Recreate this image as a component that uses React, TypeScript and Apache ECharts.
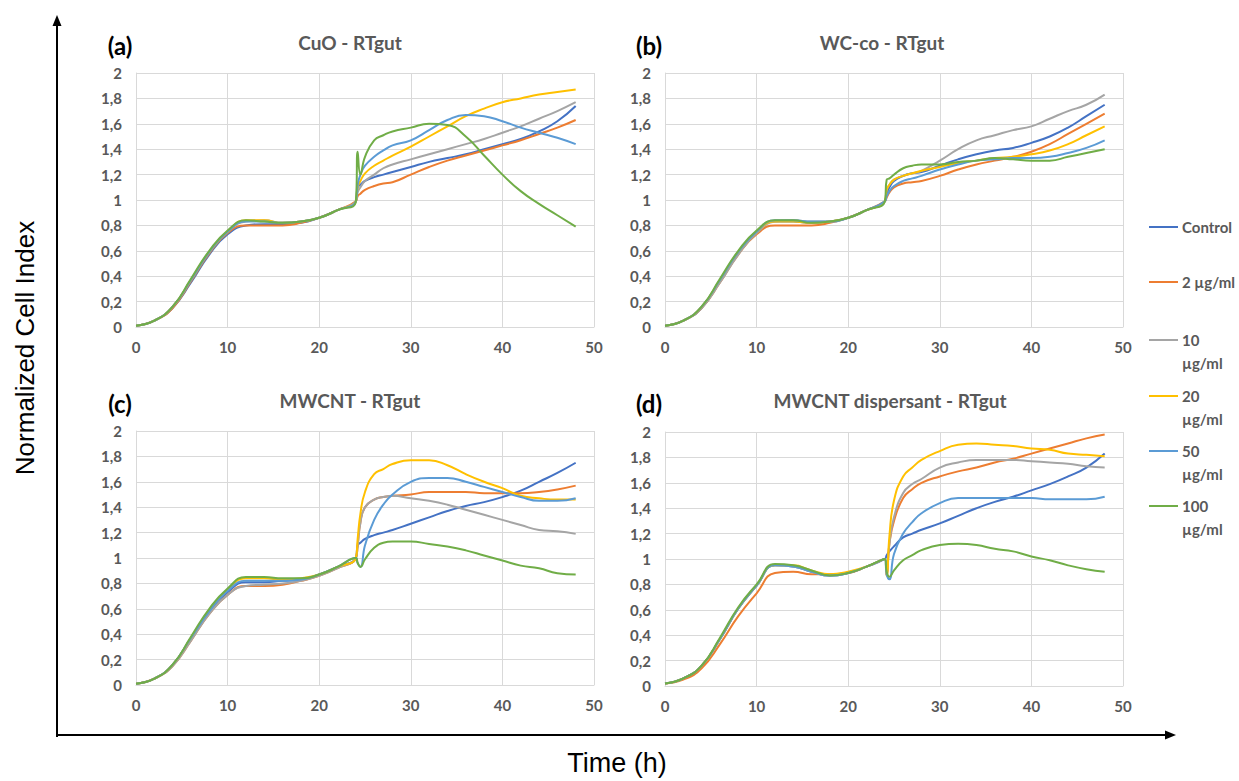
import React, { useEffect, useRef } from "react";
import * as echarts from "echarts";

// Time points (h)
const TIMES = [0, 2, 4, 6, 8, 10, 12, 14, 16, 18, 20, 22, 24, 24.2, 24.5, 25, 26, 27, 28, 30, 32, 34, 36, 38, 40, 42, 44, 46, 48];

const SERIES_NAMES = ["Control", "2 µg/ml", "10 µg/ml", "20 µg/ml", "50 µg/ml", "100 µg/ml"];
const LEGEND_LABELS = ["Control", "2 µg/ml", "10\nµg/ml", "20\nµg/ml", "50\nµg/ml", "100\nµg/ml"];
const COLORS = ["#4472C4", "#ED7D31", "#A5A5A5", "#FFC000", "#5B9BD5", "#70AD47"];

const PANEL_TITLES = ["CuO - RTgut", "WC-co - RTgut", "MWCNT - RTgut", "MWCNT dispersant - RTgut"];
const PANEL_LETTERS = ["(a)", "(b)", "(c)", "(d)"];

const X_TICKS = [0, 10, 20, 30, 40, 50];
const Y_TICKS = [0, 0.2, 0.4, 0.6, 0.8, 1, 1.2, 1.4, 1.6, 1.8, 2];

// (a) CuO
const A_CONTROL = [0.01, 0.05, 0.15, 0.35, 0.57, 0.73, 0.80, 0.81, 0.81, 0.82, 0.86, 0.92, 0.99, 1.10, 1.12, 1.15, 1.18, 1.20, 1.22, 1.26, 1.30, 1.33, 1.36, 1.40, 1.44, 1.48, 1.54, 1.62, 1.74];
const A_2 = [0.01, 0.05, 0.15, 0.36, 0.58, 0.74, 0.80, 0.80, 0.80, 0.82, 0.86, 0.92, 0.99, 1.03, 1.05, 1.08, 1.11, 1.13, 1.14, 1.20, 1.26, 1.31, 1.35, 1.39, 1.43, 1.47, 1.52, 1.57, 1.63];
const A_10 = [0.01, 0.05, 0.16, 0.37, 0.59, 0.75, 0.83, 0.84, 0.82, 0.83, 0.86, 0.92, 0.99, 1.06, 1.10, 1.15, 1.20, 1.25, 1.28, 1.32, 1.36, 1.40, 1.44, 1.48, 1.53, 1.58, 1.64, 1.70, 1.77];
const A_20 = [0.01, 0.05, 0.16, 0.37, 0.59, 0.75, 0.84, 0.84, 0.82, 0.83, 0.86, 0.92, 0.99, 1.10, 1.15, 1.21, 1.27, 1.31, 1.35, 1.42, 1.50, 1.58, 1.66, 1.72, 1.77, 1.80, 1.83, 1.85, 1.87];
const A_50 = [0.01, 0.05, 0.16, 0.37, 0.59, 0.75, 0.83, 0.83, 0.82, 0.83, 0.86, 0.92, 0.99, 1.12, 1.20, 1.27, 1.34, 1.39, 1.43, 1.47, 1.55, 1.63, 1.67, 1.66, 1.62, 1.57, 1.53, 1.49, 1.44];
const A_100 = [0.01, 0.05, 0.16, 0.38, 0.60, 0.76, 0.84, 0.83, 0.82, 0.83, 0.86, 0.92, 0.99, 1.38, 1.20, 1.34, 1.47, 1.51, 1.54, 1.57, 1.60, 1.59, 1.50, 1.35, 1.20, 1.07, 0.97, 0.88, 0.79];

// (b) WC-co
const B_CONTROL = [0.01, 0.05, 0.15, 0.36, 0.58, 0.75, 0.83, 0.83, 0.82, 0.83, 0.86, 0.92, 0.99, 1.05, 1.10, 1.15, 1.19, 1.21, 1.22, 1.27, 1.32, 1.36, 1.39, 1.41, 1.45, 1.50, 1.57, 1.66, 1.75];
const B_2 = [0.01, 0.05, 0.15, 0.35, 0.57, 0.73, 0.80, 0.80, 0.80, 0.82, 0.86, 0.92, 0.99, 1.02, 1.06, 1.10, 1.13, 1.14, 1.15, 1.19, 1.24, 1.28, 1.31, 1.34, 1.38, 1.44, 1.52, 1.60, 1.68];
const B_10 = [0.01, 0.05, 0.15, 0.35, 0.57, 0.74, 0.83, 0.84, 0.83, 0.83, 0.86, 0.92, 0.99, 1.08, 1.12, 1.16, 1.19, 1.21, 1.23, 1.31, 1.40, 1.47, 1.51, 1.55, 1.58, 1.64, 1.70, 1.75, 1.83];
const B_20 = [0.01, 0.05, 0.16, 0.37, 0.59, 0.75, 0.83, 0.83, 0.82, 0.83, 0.86, 0.92, 0.99, 1.08, 1.12, 1.16, 1.19, 1.21, 1.23, 1.26, 1.29, 1.31, 1.33, 1.34, 1.36, 1.39, 1.44, 1.51, 1.58];
const B_50 = [0.01, 0.05, 0.16, 0.37, 0.59, 0.75, 0.84, 0.84, 0.83, 0.83, 0.86, 0.92, 0.99, 1.03, 1.07, 1.11, 1.15, 1.17, 1.19, 1.24, 1.28, 1.31, 1.32, 1.33, 1.33, 1.34, 1.37, 1.41, 1.47];
const B_100 = [0.01, 0.05, 0.16, 0.38, 0.60, 0.76, 0.84, 0.84, 0.82, 0.83, 0.86, 0.92, 0.99, 1.16, 1.17, 1.20, 1.25, 1.27, 1.28, 1.28, 1.30, 1.31, 1.33, 1.32, 1.31, 1.31, 1.34, 1.37, 1.40];

// (c) MWCNT
const C_CONTROL = [0.01, 0.05, 0.16, 0.37, 0.58, 0.73, 0.81, 0.81, 0.82, 0.83, 0.87, 0.93, 1.00, 1.10, 1.12, 1.15, 1.18, 1.20, 1.22, 1.27, 1.32, 1.37, 1.41, 1.44, 1.48, 1.53, 1.60, 1.67, 1.75];
const C_2 = [0.01, 0.05, 0.15, 0.35, 0.56, 0.71, 0.78, 0.78, 0.79, 0.82, 0.86, 0.92, 1.00, 1.10, 1.28, 1.40, 1.46, 1.48, 1.49, 1.50, 1.52, 1.52, 1.52, 1.51, 1.51, 1.51, 1.52, 1.54, 1.57];
const C_10 = [0.01, 0.05, 0.15, 0.35, 0.56, 0.71, 0.78, 0.79, 0.80, 0.82, 0.86, 0.92, 1.00, 1.10, 1.28, 1.40, 1.46, 1.48, 1.49, 1.47, 1.45, 1.42, 1.38, 1.34, 1.30, 1.26, 1.22, 1.21, 1.19];
const C_20 = [0.01, 0.05, 0.16, 0.37, 0.59, 0.75, 0.84, 0.84, 0.83, 0.84, 0.87, 0.93, 1.00, 1.15, 1.35, 1.52, 1.66, 1.70, 1.74, 1.77, 1.77, 1.73, 1.66, 1.60, 1.55, 1.49, 1.47, 1.46, 1.46];
const C_50 = [0.01, 0.05, 0.16, 0.37, 0.58, 0.74, 0.82, 0.82, 0.82, 0.83, 0.87, 0.93, 1.00, 0.96, 0.93, 1.10, 1.30, 1.42, 1.50, 1.60, 1.63, 1.63, 1.60, 1.56, 1.52, 1.48, 1.45, 1.45, 1.47];
const C_100 = [0.01, 0.05, 0.16, 0.38, 0.60, 0.76, 0.85, 0.85, 0.84, 0.84, 0.87, 0.93, 1.00, 0.96, 0.93, 0.99, 1.08, 1.12, 1.13, 1.13, 1.11, 1.09, 1.06, 1.02, 0.98, 0.94, 0.92, 0.88, 0.87];

// (d) MWCNT dispersant
const D_CONTROL = [0.02, 0.06, 0.16, 0.37, 0.61, 0.79, 0.95, 0.94, 0.90, 0.87, 0.89, 0.94, 1.00, 1.03, 1.06, 1.10, 1.17, 1.20, 1.23, 1.28, 1.34, 1.40, 1.45, 1.49, 1.54, 1.59, 1.65, 1.72, 1.83];
const D_2 = [0.02, 0.05, 0.14, 0.33, 0.55, 0.73, 0.89, 0.90, 0.88, 0.88, 0.89, 0.94, 1.00, 0.87, 1.12, 1.30, 1.48, 1.55, 1.60, 1.65, 1.69, 1.72, 1.76, 1.79, 1.83, 1.87, 1.91, 1.95, 1.98];
const D_10 = [0.02, 0.06, 0.16, 0.37, 0.61, 0.79, 0.95, 0.94, 0.90, 0.87, 0.89, 0.94, 1.00, 0.87, 1.12, 1.33, 1.52, 1.59, 1.63, 1.72, 1.76, 1.78, 1.78, 1.78, 1.77, 1.76, 1.75, 1.73, 1.72];
const D_20 = [0.02, 0.06, 0.16, 0.37, 0.61, 0.79, 0.95, 0.95, 0.91, 0.88, 0.90, 0.94, 1.00, 0.87, 1.18, 1.46, 1.65, 1.72, 1.78, 1.85, 1.90, 1.91, 1.90, 1.89, 1.87, 1.86, 1.83, 1.82, 1.81];
const D_50 = [0.02, 0.06, 0.16, 0.37, 0.61, 0.79, 0.95, 0.94, 0.90, 0.87, 0.89, 0.94, 1.00, 0.88, 0.84, 1.04, 1.20, 1.29, 1.36, 1.44, 1.48, 1.48, 1.48, 1.48, 1.48, 1.47, 1.47, 1.47, 1.49];
const D_100 = [0.02, 0.06, 0.16, 0.38, 0.62, 0.80, 0.96, 0.95, 0.91, 0.87, 0.89, 0.94, 1.00, 0.90, 0.86, 0.91, 0.99, 1.03, 1.07, 1.11, 1.12, 1.11, 1.08, 1.06, 1.02, 0.99, 0.95, 0.92, 0.90];

const PANEL_DATA = [
  [A_CONTROL, A_2, A_10, A_20, A_50, A_100],
  [B_CONTROL, B_2, B_10, B_20, B_50, B_100],
  [C_CONTROL, C_2, C_10, C_20, C_50, C_100],
  [D_CONTROL, D_2, D_10, D_20, D_50, D_100],
];

// layout
const GRIDS = [
  { left: 136, top: 73, width: 458, height: 254 },
  { left: 665, top: 73, width: 458, height: 254 },
  { left: 136, top: 431, width: 458, height: 254 },
  { left: 665, top: 432, width: 458, height: 254 },
];
const LETTER_POS = [[120, 45], [649, 45], [120, 403], [649, 403]];
const TITLE_POS = [[350, 42], [882, 42], [350, 400], [890, 400]];
const LEGEND_Y = [227, 282, 340, 396, 451, 506];

const GRID_COLOR = "#D9D9D9";
const LABEL_COLOR = "#595959";
const FONT = "Lato, 'Open Sans', sans-serif";

const fmt = (v: number) => String(Math.round(v * 10) / 10).replace(".", ",");

export default function App() {
  const ref = useRef<HTMLDivElement>(null);

  useEffect(() => {
    if (!ref.current) return;
    const chart = echarts.init(ref.current, null, { renderer: "svg" });

    const xAxis = GRIDS.map((_, i) => ({
      type: "value",
      gridIndex: i,
      min: 0,
      max: 50,
      interval: 10,
      axisLine: { show: true, lineStyle: { color: GRID_COLOR, width: 1 } },
      axisTick: { show: false },
      splitLine: { show: true, lineStyle: { color: GRID_COLOR, width: 1 } },
      axisLabel: { color: LABEL_COLOR, fontFamily: FONT, fontWeight: "bold", fontSize: 15, margin: 12, formatter: (v: number) => (X_TICKS.includes(v) ? String(v) : "") },
    }));
    const yAxis = GRIDS.map((_, i) => ({
      type: "value",
      gridIndex: i,
      min: 0,
      max: 2,
      interval: 0.2,
      axisLine: { show: true, lineStyle: { color: GRID_COLOR, width: 1 } },
      axisTick: { show: false },
      splitLine: { show: true, lineStyle: { color: GRID_COLOR, width: 1 } },
      axisLabel: {
        color: LABEL_COLOR, fontFamily: FONT, fontWeight: "bold", fontSize: 15, margin: 14,
        formatter: (v: number) => {
          const m = Y_TICKS.find((t) => Math.abs(t - v) < 1e-6);
          return m === undefined ? "" : fmt(m);
        },
      },
    }));

    const series: any[] = [];
    PANEL_DATA.forEach((panel, pi) => {
      panel.forEach((vals, si) => {
        series.push({
          type: "line",
          name: SERIES_NAMES[si],
          xAxisIndex: pi,
          yAxisIndex: pi,
          data: TIMES.map((t, k) => [t, vals[k]]),
          symbol: "none",
          showSymbol: false,
          smooth: 0.5,
          lineStyle: { color: COLORS[si], width: 2 },
          itemStyle: { color: COLORS[si] },
          z: 2 + si,
        });
      });
    });

    const graphic: any[] = [];
    // big axes with arrows
    graphic.push({ type: "line", shape: { x1: 57, y1: 737, x2: 57, y2: 24 }, style: { stroke: "#000", lineWidth: 2 } });
    graphic.push({ type: "polygon", shape: { points: [[52.5, 26], [61.5, 26], [57, 15]] }, style: { fill: "#000" } });
    graphic.push({ type: "line", shape: { x1: 56, y1: 735, x2: 1166, y2: 735 }, style: { stroke: "#000", lineWidth: 2 } });
    graphic.push({ type: "polygon", shape: { points: [[1165, 730.5], [1165, 739.5], [1176, 735]] }, style: { fill: "#000" } });

    graphic.push({
      type: "text", x: 25, y: 348, rotation: Math.PI / 2,
      style: { text: "Normalized Cell Index", fill: "#000", font: "26px 'Liberation Sans', Arial, sans-serif", textAlign: "center", textVerticalAlign: "middle" },
    });
    graphic.push({
      type: "text", x: 617, y: 763,
      style: {
        text: "Time (h)", fill: "#000", font: "27px 'Liberation Sans', Arial, sans-serif",
        textAlign: "center", textVerticalAlign: "middle",
      },
    });

    PANEL_TITLES.forEach((t, i) => {
      graphic.push({
        type: "text", x: TITLE_POS[i][0], y: TITLE_POS[i][1],
        style: { text: t, fill: LABEL_COLOR, font: `bold 19px ${FONT}`, textAlign: "center", textVerticalAlign: "middle" },
      });
      graphic.push({
        type: "text", x: LETTER_POS[i][0], y: LETTER_POS[i][1],
        style: { text: PANEL_LETTERS[i], fill: "#000", font: `bold 24px ${FONT}`, textAlign: "center", textVerticalAlign: "middle" },
      });
    });

    LEGEND_LABELS.forEach((lab, i) => {
      const y = LEGEND_Y[i];
      graphic.push({ type: "line", shape: { x1: 1149, y1: y, x2: 1178, y2: y }, style: { stroke: COLORS[i], lineWidth: 2 } });
      graphic.push({
        type: "text", x: 1182, y: y - 11.5,
        style: { text: lab, fill: LABEL_COLOR, font: `bold 15px ${FONT}`, lineHeight: 23, textAlign: "left", textVerticalAlign: "top" },
      });
    });

    chart.setOption({
      animation: false,
      backgroundColor: "#fff",
      grid: GRIDS.map((g) => ({ ...g, containLabel: false })),
      xAxis,
      yAxis,
      series,
      graphic,
    });

    return () => chart.dispose();
  }, []);

  return <div ref={ref} style={{ position: "absolute", left: 0, top: 0, width: 1239, height: 781 }} />;
}
